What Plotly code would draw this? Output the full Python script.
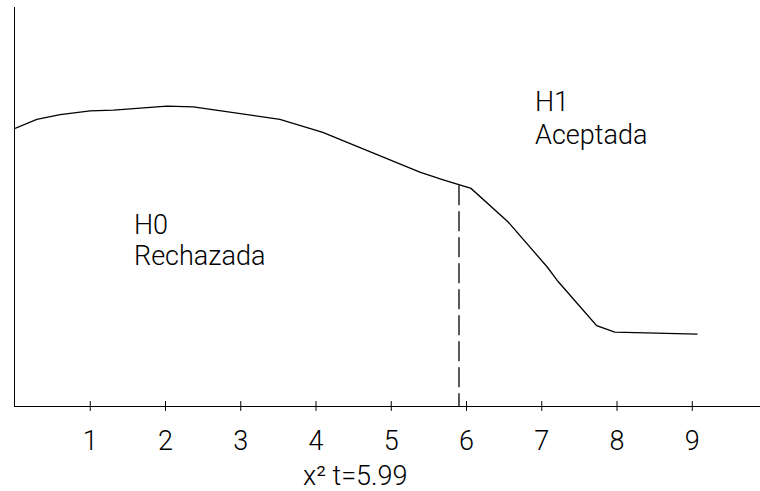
import plotly.graph_objects as go

# Curve (x in chi-square units, y in arbitrary density units)
curve_x = [0.0, 0.29, 0.60, 1.00, 1.31, 2.02, 2.37, 2.99, 3.52, 4.09, 4.76, 5.38, 5.69, 5.90, 6.06, 6.55, 7.07, 7.22, 7.73, 7.97, 9.07]
curve_y = [6.84, 7.06, 7.18, 7.27, 7.29, 7.39, 7.37, 7.21, 7.06, 6.74, 6.23, 5.76, 5.57, 5.44, 5.36, 4.54, 3.43, 3.06, 1.98, 1.82, 1.77]

tick_vals = [1, 2, 3, 4, 5, 6, 7, 8, 9]
tick_text = ["1", "2", "3", "4", "5", "6", "7", "8", "9"]

crit_x = [5.9, 5.9]
crit_y = [5.44, -0.1]
crit_label = "x² t=5.99"

FONT = "Roboto"

fig = go.Figure()
fig.add_trace(go.Scatter(x=curve_x, y=curve_y, mode="lines",
                         line=dict(color="black", width=1.3), hoverinfo="skip"))
fig.add_trace(go.Scatter(x=crit_x, y=crit_y, mode="lines",
                         line=dict(color="black", width=1.3, dash="20px,6px"), hoverinfo="skip"))
fig.add_trace(go.Scatter(x=tick_vals, y=[0] * len(tick_vals), mode="markers",
                         marker=dict(symbol="line-ns", size=7, line=dict(color="black", width=1)),
                         hoverinfo="skip", cliponaxis=False))

# gap in the x axis line just right of the 6 tick
fig.add_shape(type="line", x0=6.05, x1=6.11, y0=0, y1=0, xref="x", yref="y",
              line=dict(color="white", width=3))

fig.add_annotation(x=1.555, y=4.46, text="H0", showarrow=False, xanchor="left", yanchor="middle",
                   font=dict(family=FONT, size=27, color="black", weight=300))
fig.add_annotation(x=1.555, y=3.69, text="Rechazada", showarrow=False, xanchor="left", yanchor="middle",
                   font=dict(family=FONT, size=27, color="black", weight=300))
fig.add_annotation(x=6.88, y=7.48, text="H1", showarrow=False, xanchor="left", yanchor="middle",
                   font=dict(family=FONT, size=27, color="black", weight=300))
fig.add_annotation(x=6.88, y=6.67, text="Aceptada", showarrow=False, xanchor="left", yanchor="middle",
                   font=dict(family=FONT, size=27, color="black", weight=300))
fig.add_annotation(x=4.52, y=-0.175, xref="x", yref="paper", text=crit_label, showarrow=False,
                   xanchor="center", yanchor="middle",
                   font=dict(family=FONT, size=27, color="black", weight=300))

fig.update_layout(
    width=760, height=491,
    margin=dict(l=15, r=0, t=7, b=85),
    paper_bgcolor="white", plot_bgcolor="white",
    showlegend=False,
    xaxis=dict(range=[0, 9.9], showgrid=False, zeroline=False, showline=True,
               linecolor="black", linewidth=1.3, tickvals=tick_vals, ticktext=tick_text,
               ticks="", ticklabelstandoff=10,
               tickfont=dict(family=FONT, size=27, color="black", weight=300)),
    yaxis=dict(range=[0, 9.83], showgrid=False, zeroline=False, showline=True,
               linecolor="black", linewidth=1.3, showticklabels=False, ticks=""),
)

fig.write_html("out.html", config={"displayModeBar": False},
               post_script="document.body.style.margin='0';document.body.style.overflow='hidden';")
